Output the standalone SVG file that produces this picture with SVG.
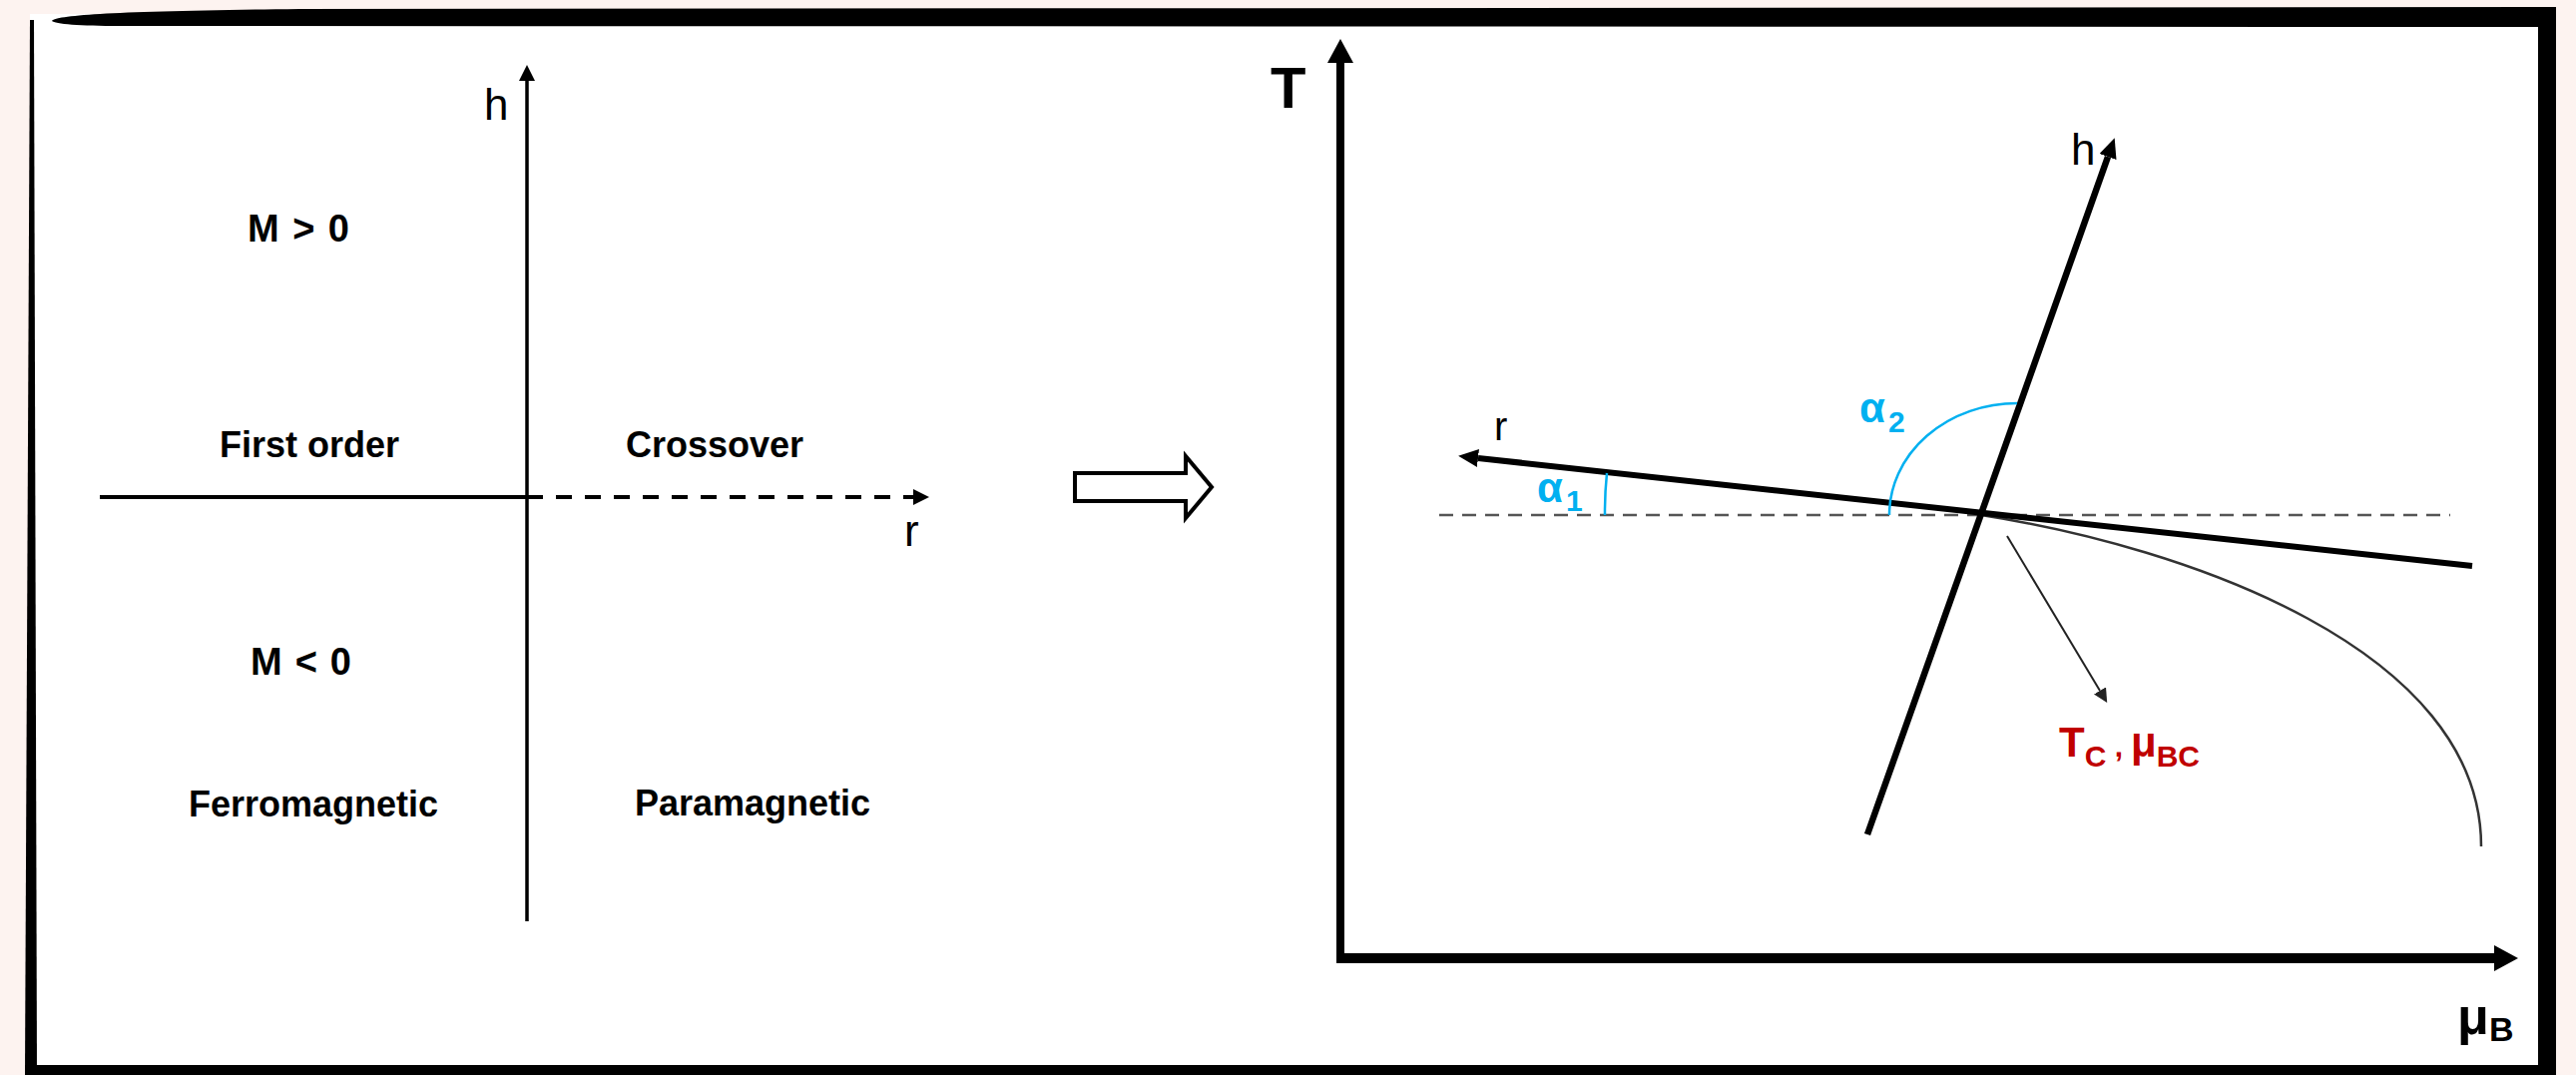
<svg xmlns="http://www.w3.org/2000/svg" width="2581" height="1077" viewBox="0 0 2581 1077">
<defs>
<style>
.lbl{font-family:"Liberation Sans",Arial,sans-serif;fill:#000}
.b{font-weight:bold}
.n{font-weight:normal}
.red{fill:#c00000;font-weight:bold}
.blue{fill:#00b0f0;font-weight:bold}
.ax{stroke:#000;fill:none}
.arc{stroke:#00b0f0;stroke-width:2.5;fill:none}
</style>
<marker id="ahS" markerUnits="userSpaceOnUse" markerWidth="16" markerHeight="16" viewBox="0 0 16 16" refX="0" refY="8" orient="auto"><path d="M0,0 L16,8 L0,16 z" fill="#000"/></marker>
<marker id="ahL" markerUnits="userSpaceOnUse" markerWidth="24" markerHeight="26" viewBox="0 0 24 26" refX="0" refY="13" orient="auto"><path d="M0,0 L24,13 L0,26 z" fill="#000"/></marker>
<marker id="ahM" markerUnits="userSpaceOnUse" markerWidth="20" markerHeight="18" viewBox="0 0 20 18" refX="0" refY="9" orient="auto"><path d="M0,0 L20,9 L0,18 z" fill="#000"/></marker>
<marker id="ahT" markerUnits="userSpaceOnUse" markerWidth="14" markerHeight="14" viewBox="0 0 14 14" refX="0" refY="7" orient="auto"><path d="M0,0 L14,7 L0,14 z" fill="#222"/></marker>
</defs>

<g id="frame">
<rect x="0" y="0" width="2581" height="1077" fill="#fdf3f0"/>
<rect x="30" y="14" width="2513" height="1055" fill="#fff"/>
<path d="M52,21 C56,15 120,11 300,9 L2561,7 L2561,27 L120,26 C80,26 55,24 52,21 Z" fill="#000"/>
<rect x="2543" y="7" width="18" height="1070" fill="#000"/>
<rect x="25" y="1067" width="2536" height="10" fill="#000"/>
<path d="M30,20 L34,20 L37,1077 L25,1077 Z" fill="#000"/>
</g>

<g id="connectors">
<line class="ax" x1="528" y1="923" x2="528" y2="81" stroke-width="3.5" marker-end="url(#ahS)"/>
<line class="ax" x1="100" y1="498" x2="528" y2="498" stroke-width="4"/>
<line class="ax" x1="528" y1="498" x2="915" y2="498" stroke-width="4" stroke-dasharray="16 13" marker-end="url(#ahS)"/>
<polygon points="1077,474 1188,474 1188,457 1214,488 1188,519 1188,502 1077,502" fill="#fff" stroke="#000" stroke-width="4"/>
<line class="ax" x1="1343" y1="964" x2="1343" y2="63" stroke-width="8" marker-end="url(#ahL)"/>
<line class="ax" x1="1339" y1="960" x2="2499" y2="960" stroke-width="10" marker-end="url(#ahL)"/>
<line x1="1442" y1="516" x2="2455" y2="516" stroke="#555" stroke-width="2.5" stroke-dasharray="14 9"/>
<path d="M1985,516 C2190,548 2486,650 2486,848" fill="none" stroke="#333" stroke-width="2.5"/>
<line class="ax" x1="2477" y1="567" x2="1481" y2="459" stroke-width="6" marker-end="url(#ahM)"/>
<line class="ax" x1="1871" y1="836" x2="2112" y2="157" stroke-width="6.5" marker-end="url(#ahM)"/>
<line x1="2011" y1="537" x2="2104" y2="692" stroke="#222" stroke-width="2" marker-end="url(#ahT)"/>
<path class="arc" d="M1608,516 A377,377 0 0 1 1610,474"/>
<path class="arc" d="M1893,516 A128,112 0 0 1 2021,404"/>
</g>

<g id="label-h-left"><text class="lbl n" x="485" y="120" font-size="44">h</text></g>
<g id="label-r-left"><text class="lbl n" x="906" y="547" font-size="44">r</text></g>
<g id="label-mpos"><text class="lbl b" x="248" y="242" font-size="38" textLength="102">M &gt; 0</text></g>
<g id="label-first-order"><text class="lbl b" x="220" y="458" font-size="36">First order</text></g>
<g id="label-crossover"><text class="lbl b" x="627" y="458" font-size="36">Crossover</text></g>
<g id="label-mneg"><text class="lbl b" x="251" y="676" font-size="38" textLength="101">M &lt; 0</text></g>
<g id="label-ferro"><text class="lbl b" x="189" y="818" font-size="36">Ferromagnetic</text></g>
<g id="label-para"><text class="lbl b" x="636" y="817" font-size="36">Paramagnetic</text></g>

<g id="label-T"><text class="lbl b" x="1273" y="108" font-size="58">T</text></g>
<g id="label-muB"><text class="lbl b" x="2462" y="1036" font-size="52">μ<tspan x="2494" y="1043" font-size="34">B</tspan></text></g>
<g id="label-h-right"><text class="lbl n" x="2075" y="165" font-size="44">h</text></g>
<g id="label-r-right"><text class="lbl n" x="1497" y="441" font-size="40">r</text></g>
<g id="label-alpha1"><text class="lbl blue" x="1540" y="503" font-size="42">α<tspan x="1569" y="512" font-size="30">1</tspan></text></g>
<g id="label-alpha2"><text class="lbl blue" x="1863" y="423" font-size="42">α<tspan x="1892" y="433" font-size="30">2</tspan></text></g>
<g id="label-critical"><text class="lbl red" x="2063" y="758" font-size="42">T<tspan dy="10" font-size="30">C</tspan><tspan dy="-10" font-size="30"> ,</tspan><tspan x="2135" font-size="42">μ</tspan><tspan dy="10" font-size="30">BC</tspan></text></g>
</svg>
